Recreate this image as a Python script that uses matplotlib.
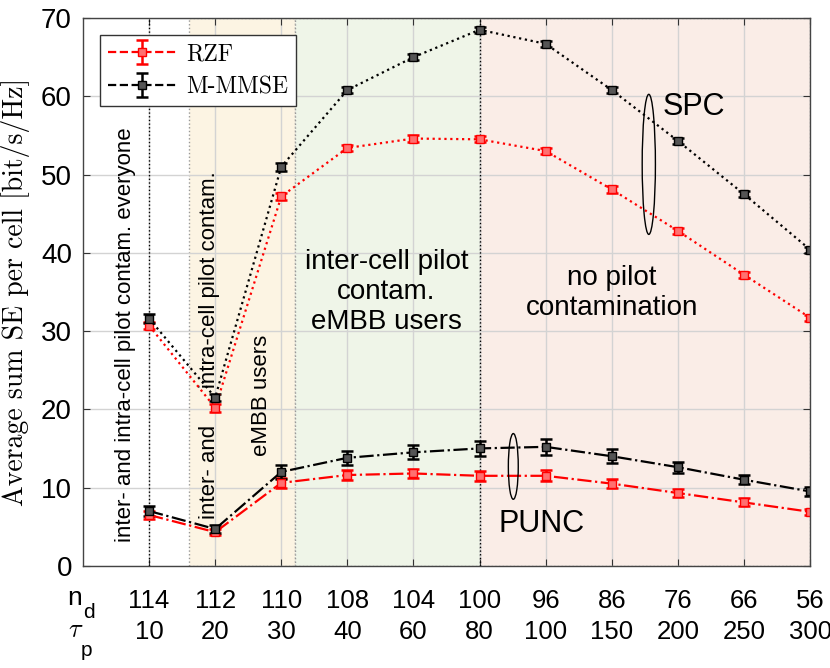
import numpy as np
import matplotlib.pyplot as plt
from matplotlib.patches import Rectangle, Ellipse

plt.rcParams['font.family'] = ['Liberation Sans', 'DejaVu Sans']
plt.rcParams['mathtext.fontset'] = 'cm'

# x axis labels (two rows)
n_d = ['114', '112', '110', '108', '104', '100', '96', '86', '76', '66', '56']
tau_p = ['10', '20', '30', '40', '60', '80', '100', '150', '200', '250', '300']

# SPC curves (dotted)
spc_rzf = [30.7, 20.2, 47.2, 53.4, 54.6, 54.5, 53.0, 48.1, 42.8, 37.2, 31.7]
spc_rzf_err = [0.5, 0.5, 0.5, 0.4, 0.4, 0.4, 0.4, 0.4, 0.4, 0.4, 0.4]
spc_mmse = [31.6, 21.5, 51.0, 60.8, 65.0, 68.5, 66.7, 60.8, 54.3, 47.5, 40.4]
spc_mmse_err = [0.6, 0.5, 0.5, 0.4, 0.4, 0.4, 0.4, 0.4, 0.4, 0.4, 0.4]

# PUNC curves (dash-dot)
punc_rzf = [6.5, 4.3, 10.6, 11.6, 11.8, 11.5, 11.5, 10.5, 9.3, 8.1, 6.9]
punc_rzf_err = [0.5, 0.4, 0.6, 0.6, 0.6, 0.6, 0.7, 0.6, 0.5, 0.5, 0.4]
punc_mmse = [7.0, 4.7, 12.0, 13.8, 14.5, 15.0, 15.2, 14.0, 12.6, 11.0, 9.5]
punc_mmse_err = [0.6, 0.5, 0.9, 0.9, 0.9, 1.0, 1.0, 0.9, 0.7, 0.6, 0.6]

x = np.arange(len(n_d))

fig = plt.figure(figsize=(8.3, 6.68), dpi=100)
ax = fig.add_axes([0.1, 0.153, 0.876, 0.82])

# shaded regions
ax.add_patch(Rectangle((0.6, 0), 1.6, 70, fc='#FCF4E3', ec='#999999', ls=':', lw=1, zorder=0.2))
ax.add_patch(Rectangle((2.2, 0), 2.8, 70, fc='#EFF5E8', ec='#999999', ls=':', lw=1, zorder=0.2))
ax.add_patch(Rectangle((5, 0), 5, 70, fc='#FAEDE7', ec='#999999', ls=':', lw=1, zorder=0.2))
ax.axvline(0, color='k', ls=':', lw=1, zorder=0.6)
ax.axvline(5, color='k', ls=':', lw=1, zorder=0.6)

kw = dict(marker='s', ms=5.5, capsize=4, elinewidth=1.8, capthick=1.8, lw=1.6, zorder=3)
ax.errorbar(x, spc_rzf, yerr=spc_rzf_err, color='red', ls=':', mfc='#ff7070', **kw)
ax.errorbar(x, spc_mmse, yerr=spc_mmse_err, color='black', ls=':', mfc='#555555', **kw)
ax.errorbar(x, punc_rzf, yerr=punc_rzf_err, color='red', ls='-.', mfc='#ff7070', **kw)
ax.errorbar(x, punc_mmse, yerr=punc_mmse_err, color='black', ls='-.', mfc='#555555', **kw)

# legend handles
h1 = ax.errorbar([np.nan], [np.nan], yerr=[1], color='red', ls='--', mfc='#ff7070', label='RZF', **kw)
h2 = ax.errorbar([np.nan], [np.nan], yerr=[1], color='black', ls='--', mfc='#555555', label='M-MMSE', **kw)
leg = ax.legend(handles=[h1, h2], loc='upper left', bbox_to_anchor=(0.023, 0.969),
                prop={'family': 'cmr10', 'size': 17}, frameon=True, fancybox=False,
                edgecolor='#333333', framealpha=1, handlelength=2.9, borderaxespad=0,
                handletextpad=0.4, labelspacing=0.45, borderpad=0.35)
leg.get_frame().set_linewidth(1)
leg.set_zorder(5)

# ellipses and labels
ax.add_patch(Ellipse((7.56, 51.3), 0.2, 17.9, fill=False, ec='black', lw=1, zorder=4))
ax.add_patch(Ellipse((5.51, 12.7), 0.15, 8.4, fill=False, ec='black', lw=1, zorder=4))
ax.text(7.77, 58.6, 'SPC', fontsize=22, va='center', ha='left')
ax.text(5.29, 5.3, 'PUNC', fontsize=22, va='center', ha='left')

ax.text(-0.35, 29.5, 'inter- and intra-cell pilot contam. everyone', rotation=90,
        ha='center', va='center', fontsize=16)
ax.text(0.91, 28.2, 'inter- and      intra-cell pilot contam.', rotation=90,
        ha='center', va='center', fontsize=16)
ax.text(1.70, 21.8, 'eMBB users', rotation=90, ha='center', va='center', fontsize=16)
ax.text(3.59, 35.0, 'inter-cell pilot\ncontam.\neMBB users', ha='center', va='center',
        fontsize=20, linespacing=1.2)
ax.text(7.0, 34.9, 'no pilot\ncontamination', ha='center', va='center',
        fontsize=20, linespacing=1.2)

ax.set_xlim(-1, 10)
ax.set_ylim(0, 70)
ax.set_xticks(x)
ax.set_xticklabels([a + '\n' + b for a, b in zip(n_d, tau_p)], fontsize=18.5, linespacing=1.35)
ax.set_yticks(np.arange(0, 71, 10))
ax.tick_params(axis='y', labelsize=20, pad=8)
ax.tick_params(axis='x', pad=17)
ax.tick_params(direction='in', top=True, right=True, length=5, color='#333333')
ax.set_axisbelow(True)
ax.grid(True, color='#d3d3d3', lw=1)
for s in ax.spines.values():
    s.set_color('#444444')
    s.set_linewidth(1)
    s.set_zorder(6)

ax.set_ylabel('Average sum SE per cell [bit/s/Hz]', family='cmr10', fontsize=20, labelpad=8)

# row labels for the x axis
fig.text(75 / 830, 1 - 598 / 668, 'n', fontsize=19, ha='center', va='center')
fig.text(89 / 830, 1 - 612 / 668, 'd', fontsize=15, ha='center', va='center')
fig.text(76 / 830, 1 - 630 / 668, r'$\tau$', fontsize=19, ha='center', va='center')
fig.text(86 / 830, 1 - 650 / 668, 'p', fontsize=15, ha='center', va='center')

fig.savefig('out.png', dpi=100)
